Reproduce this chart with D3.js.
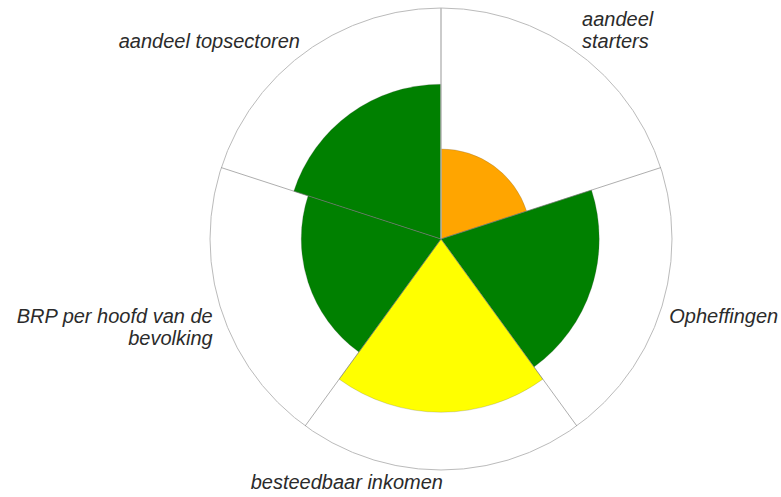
<!DOCTYPE html>
<html><head><meta charset="utf-8">
<script src="https://cdn.jsdelivr.net/npm/d3@7"></script>
<style>html,body{margin:0;padding:0;background:#fff;}</style>
</head><body>
<svg id="chart" width="781" height="497"></svg>
<script>
const categories = ["aandeel starters", "Opheffingen", "besteedbaar inkomen", "BRP per hoofd van de bevolking", "aandeel topsectoren"];
const labelLines = [["aandeel","starters"],["Opheffingen"],["besteedbaar inkomen"],["BRP per hoofd van de","bevolking"],["aandeel topsectoren"]];
const values = [3.9, 6.85, 7.5, 6.05, 6.7];
const colors = ["#FFA500", "#008000", "#FFFF00", "#008000", "#008000"];
const maxValue = 10;

const svg = d3.select("#chart");
const cx = 441, cy = 239, outerR = 231;
const g = svg.append("g").attr("transform", `translate(${cx},${cy})`);

const angle = d3.scaleBand().domain(categories).range([0, 2*Math.PI]);
const r = d3.scaleLinear().domain([0, maxValue]).range([0, outerR]);

const arc = d3.arc().innerRadius(0)
  .outerRadius(d => r(d.v))
  .startAngle(d => angle(d.c))
  .endAngle(d => angle(d.c) + angle.bandwidth());

const data = categories.map((c,i) => ({c, v: values[i], col: colors[i], lines: labelLines[i]}));

// outer circle
g.append("circle").attr("r", outerR).attr("fill", "none").attr("stroke", "#bbb").attr("stroke-width", 1);

// segments
g.selectAll("path.seg").data(data).join("path").attr("class","seg")
  .attr("d", arc).attr("fill", d => d.col)
  .attr("stroke", "rgba(90,90,90,0.45)").attr("stroke-width", 0.5);

// radial grid lines
g.selectAll("line.rad").data(categories).join("line").attr("class","rad")
  .attr("x1", 0).attr("y1", 0)
  .attr("x2", d => outerR*Math.sin(angle(d)))
  .attr("y2", d => -outerR*Math.cos(angle(d)))
  .attr("stroke", (d,i) => i === 0 ? "#b5b5b5" : "#777")
  .attr("stroke-width", (d,i) => i === 0 ? 1.4 : 0.6);

// labels
const labelR = 240, lh = 21.5;
data.forEach(d => {
  const a = angle(d.c) + angle.bandwidth()/2;
  const s = Math.sin(a), co = Math.cos(a);
  let x = labelR*s, y = -labelR*co;
  const anchor = s > 0.1 ? "start" : "end";
  if (Math.abs(s) <= 0.1) x += 2;
  const t = g.append("text").attr("text-anchor", anchor)
    .attr("font-family", "Liberation Sans, Arial, Helvetica, sans-serif")
    .attr("font-style", "italic").attr("font-size", 20).attr("fill", "#2b2b2b");
  const k = d.lines.length;
  const firstBase = co > 0.1 ? (y + 3 - (k-1)*lh) : (y + 10);
  d.lines.forEach((ln, j) => {
    t.append("tspan").attr("x", x).attr("y", firstBase + j*lh).text(ln);
  });
});
</script>
</body></html>
